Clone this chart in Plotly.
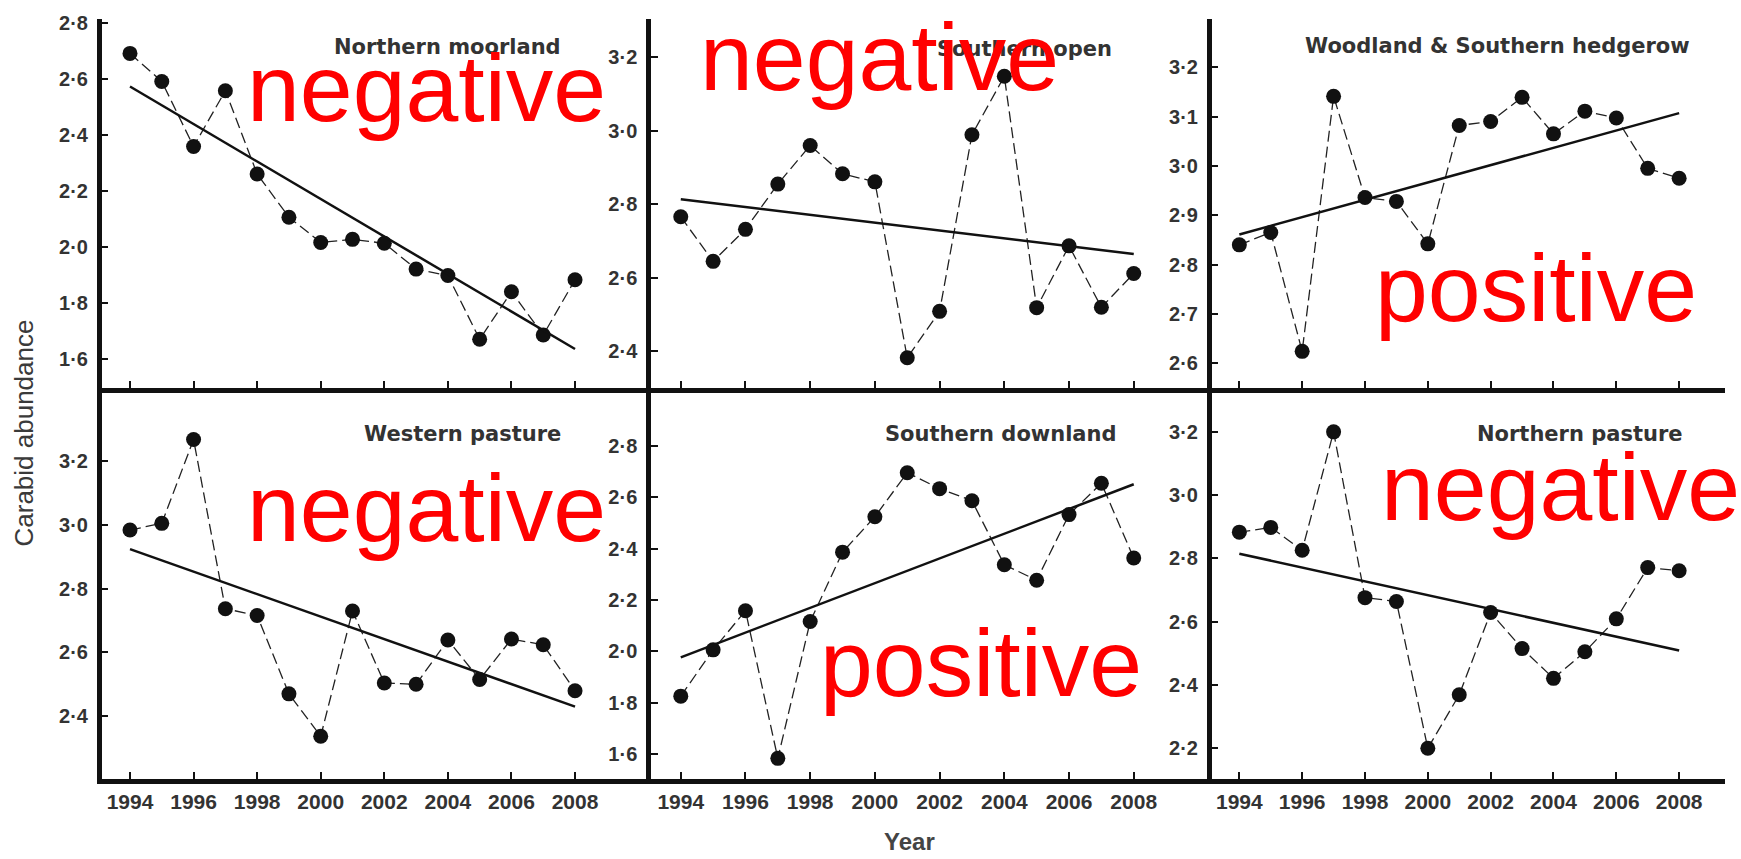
import plotly.graph_objects as go

W, H = 1741, 859

years = list(range(1994, 2009))
x_ticks = [1994, 1996, 1998, 2000, 2002, 2004, 2006, 2008]

panel_titles = ["Northern moorland", "Southern open", "Woodland & Southern hedgerow",
                "Western pasture", "Southern downland", "Northern pasture"]

northern_moorland = [2.69, 2.59, 2.358, 2.557, 2.26, 2.106, 2.016, 2.027, 2.013, 1.921, 1.898, 1.671, 1.84, 1.686, 1.883]
southern_open = [2.766, 2.645, 2.732, 2.855, 2.96, 2.883, 2.861, 2.383, 2.509, 2.989, 3.148, 2.519, 2.687, 2.52, 2.612]
woodland_hedgerow = [2.84, 2.865, 2.624, 3.141, 2.936, 2.928, 2.842, 3.082, 3.09, 3.139, 3.065, 3.111, 3.097, 2.995, 2.975]
western_pasture = [2.984, 3.005, 3.268, 2.737, 2.716, 2.47, 2.337, 2.73, 2.504, 2.50, 2.639, 2.515, 2.642, 2.624, 2.48]
southern_downland = [1.826, 2.006, 2.158, 1.584, 2.116, 2.386, 2.524, 2.695, 2.633, 2.586, 2.337, 2.277, 2.532, 2.654, 2.363]
northern_pasture = [2.883, 2.898, 2.826, 3.20, 2.676, 2.664, 2.20, 2.369, 2.629, 2.515, 2.421, 2.505, 2.609, 2.771, 2.761]

# fitted trend line values at 1994 and 2008
trend_start = [2.572, 2.814, 2.861, 2.924, 1.977, 2.815]
trend_end = [1.636, 2.665, 3.107, 2.43, 2.65, 2.509]

trend_labels = ["negative", "negative", "positive", "negative", "positive", "negative"]

y_tickvals = [
    [1.6, 1.8, 2.0, 2.2, 2.4, 2.6, 2.8],
    [2.4, 2.6, 2.8, 3.0, 3.2],
    [2.6, 2.7, 2.8, 2.9, 3.0, 3.1, 3.2],
    [2.4, 2.6, 2.8, 3.0, 3.2],
    [1.6, 1.8, 2.0, 2.2, 2.4, 2.6, 2.8],
    [2.2, 2.4, 2.6, 2.8, 3.0, 3.2],
]
y_ranges = [
    [1.4975, 2.813],
    [2.301, 3.304],
    [2.55, 3.298],
    [2.204, 3.43],
    [1.505, 3.025],
    [2.104, 3.339],
]
x_ranges = [
    [1993.11, 2010.39],
    [1993.08, 2010.41],
    [1993.12, 2009.46],
]

series = [northern_moorland, southern_open, woodland_hedgerow,
          western_pasture, southern_downland, northern_pasture]


def px(x):
    return x / W


def py(y):
    return 1 - y / H


col_px = [(101.7, 651.0), (651.0, 1211.7), (1211.7, 1725.0)]
row_px = [(12.0, 384.0), (384.0, 778.0)]

fig = go.Figure()
layout = dict(
    width=W, height=H,
    margin=dict(l=0, r=0, t=0, b=0),
    paper_bgcolor="white", plot_bgcolor="white",
    showlegend=False,
    font=dict(family="Liberation Sans, Arial, sans-serif", color="#333"),
)


def fmt(v):
    s = f"{v:.1f}"
    return s.replace(".", "·")


annotations = []
for i in range(6):
    r, c = divmod(i, 3)
    n = i + 1
    xa = "x" if n == 1 else f"x{n}"
    ya = "y" if n == 1 else f"y{n}"
    fig.add_trace(go.Scatter(
        x=years, y=series[i], mode="lines+markers",
        line=dict(color="#222", width=1.3, dash="11px,5px"),
        marker=dict(color="#111", size=15),
        xaxis=xa, yaxis=ya, hoverinfo="x+y"))
    fig.add_trace(go.Scatter(
        x=[years[0], years[-1]], y=[trend_start[i], trend_end[i]], mode="lines",
        line=dict(color="#111", width=2.5),
        xaxis=xa, yaxis=ya, hoverinfo="skip"))

    x0, x1 = col_px[c]
    y0, y1 = row_px[r]
    common = dict(showline=True, linecolor="#111", linewidth=4.5, mirror=False,
                  ticks="inside", ticklen=7, tickwidth=2, tickcolor="#111",
                  showgrid=False, zeroline=False)
    layout[f"xaxis{'' if n == 1 else n}"] = dict(
        domain=[px(x0), px(x1)], anchor=ya, range=x_ranges[c],
        tickvals=x_ticks, ticktext=[str(t) for t in x_ticks],
        showticklabels=(r == 1), ticklabelstandoff=0,
        tickfont=dict(family="Liberation Sans, Arial, sans-serif", size=21, color="#333", weight="bold"),
        **common)
    layout[f"yaxis{'' if n == 1 else n}"] = dict(
        domain=[py(y1), py(y0)], anchor=xa, range=y_ranges[i],
        tickvals=y_tickvals[i], ticktext=[fmt(v) for v in y_tickvals[i]],
        ticklabelstandoff=5,
        tickfont=dict(family="Liberation Sans, Arial, sans-serif", size=20, color="#333", weight="bold"),
        **common)

# panel titles: (x px, anchor, y px)
title_pos = [(563, "right", 40), (935, "left", 42), (1692, "right", 39),
             (563, "right", 431), (883, "left", 431), (1685, "right", 431)]
for i, (tx, anc, ty) in enumerate(title_pos):
    annotations.append(dict(
        text=f"<b>{panel_titles[i]}</b>", x=px(tx), y=py(ty), xref="paper", yref="paper",
        xanchor=anc, yanchor="middle", showarrow=False,
        font=dict(family="DejaVu Sans, sans-serif", size=21, color="#333")))

# red labels: (left px, baseline px)
label_pos = [(245, 122), (698, 90), (1373, 323), (245, 545), (818, 701), (1379, 524)]
for i, (lx, base) in enumerate(label_pos):
    annotations.append(dict(
        text=trend_labels[i], x=px(lx), y=py(base - 40), xref="paper", yref="paper",
        xanchor="left", yanchor="middle", showarrow=False,
        font=dict(family="Liberation Sans, Arial, sans-serif", size=95, color="#ff0000")))

annotations.append(dict(
    text="Carabid abundance", x=px(24), y=py(430), xref="paper", yref="paper",
    xanchor="center", yanchor="middle", showarrow=False, textangle=-90,
    font=dict(family="Liberation Sans, Arial, sans-serif", size=26, color="#3a3a3a")))
annotations.append(dict(
    text="<b>Year</b>", x=px(909), y=py(841), xref="paper", yref="paper",
    xanchor="center", yanchor="middle", showarrow=False,
    font=dict(family="Liberation Sans, Arial, sans-serif", size=24, color="#444")))

layout["annotations"] = annotations
fig.update_layout(**layout)
fig.write_html("out.html")
